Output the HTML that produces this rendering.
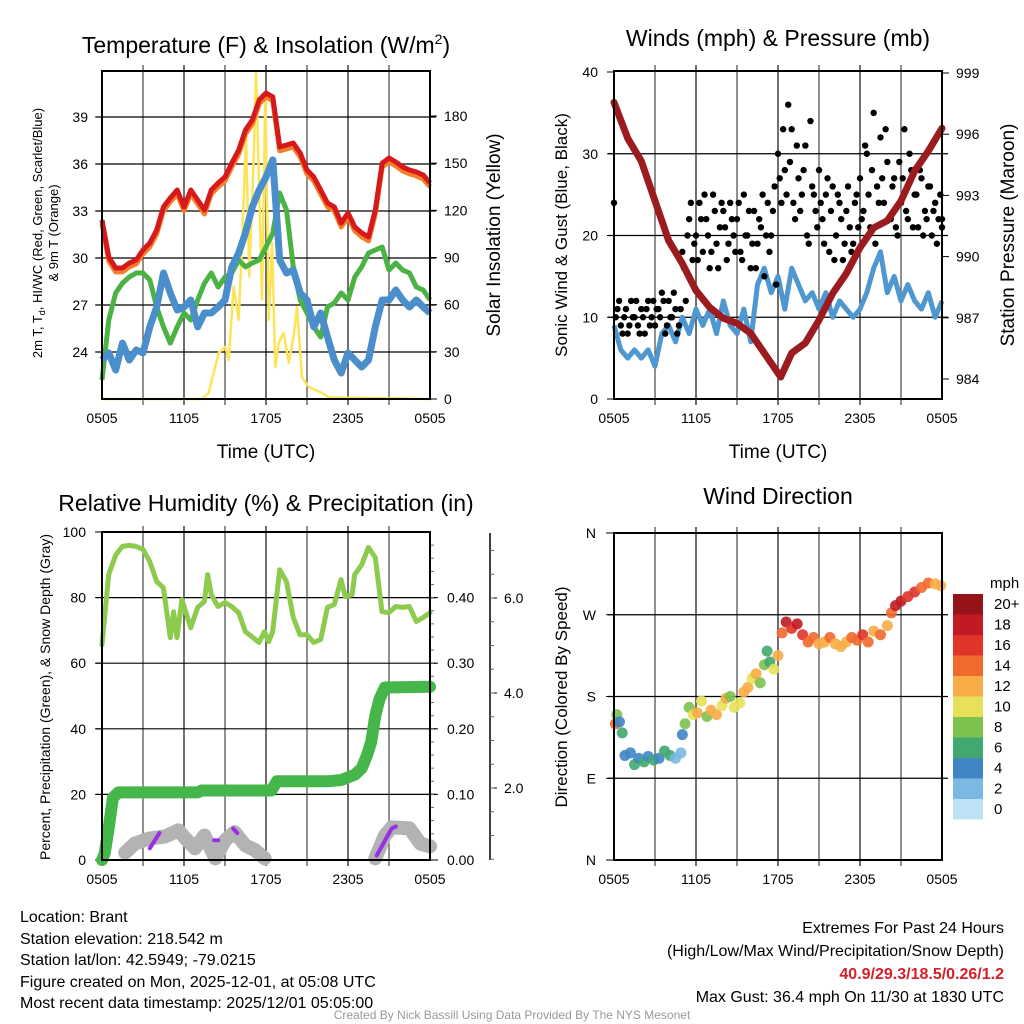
<!DOCTYPE html>
<html><head><meta charset="utf-8"><style>
html,body{margin:0;padding:0;background:#fff;}
svg{display:block;font-family:"Liberation Sans",Arial,sans-serif;}
</style></head><body>
<svg id="fig" width="1024" height="1024" viewBox="0 0 1024 1024" xmlns="http://www.w3.org/2000/svg">
<rect width="1024" height="1024" fill="#fff"/>
<g id="p1"></g>
<g id="p2"></g>
<g id="p3"></g>
<g id="p4"></g>
<g font-size="16" fill="#000">
<text x="20" y="922">Location: Brant</text>
<text x="20" y="944">Station elevation: 218.542 m</text>
<text x="20" y="965">Station lat/lon: 42.5949; -79.0215</text>
<text x="20" y="987">Figure created on Mon, 2025-12-01, at 05:08 UTC</text>
<text x="20" y="1008">Most recent data timestamp: 2025/12/01 05:05:00</text>
<text x="1004" y="933" text-anchor="end">Extremes For Past 24 Hours</text>
<text x="1004" y="956" text-anchor="end">(High/Low/Max Wind/Precipitation/Snow Depth)</text>
<text x="1004" y="979" text-anchor="end" fill="#d42027" font-weight="bold">40.9/29.3/18.5/0.26/1.2</text>
<text x="1004" y="1002" text-anchor="end">Max Gust: 36.4 mph On 11/30 at 1830 UTC</text>
<text x="512" y="1019" text-anchor="middle" font-size="12" fill="#999">Created By Nick Bassill Using Data Provided By The NYS Mesonet</text>
</g>
</svg>
<script>
// ---------- data ----------
const xTickLabels = ["0505","1105","1705","2305","0505"];
const tempRed = [32.43,30.06,29.36,29.36,29.68,29.87,30.51,30.96,31.79,33.26,33.83,34.34,33.26,34.34,33.70,33.06,34.34,34.79,35.17,36.06,36.89,38.17,38.81,40.09,40.53,40.28,37.09,37.21,37.34,36.70,35.62,35.17,34.34,33.51,33.26,32.23,32.87,31.98,31.60,31.34,33.06,36.06,36.38,36.13,35.81,35.62,35.49,35.30,34.79];
const tempGreen = [22.21,26.04,27.77,28.40,28.79,29.04,29.04,28.60,26.87,25.60,24.57,25.60,26.49,26.04,27.32,28.40,29.04,28.15,28.79,29.04,29.87,29.43,29.68,29.87,30.70,31.60,34.15,33.06,29.43,27.32,26.49,25.60,24.96,26.87,27.13,27.77,27.32,28.79,29.43,30.32,30.51,30.70,29.23,29.68,29.23,29.04,28.15,27.96,27.32];
const tempBlue = [23.49,23.94,22.85,24.57,23.49,24.13,23.94,25.60,26.87,29.04,27.77,26.68,26.87,27.32,25.60,26.49,26.49,26.87,27.32,29.43,30.32,31.60,33.26,34.34,35.17,36.26,29.87,29.04,29.23,27.77,27.32,25.60,26.49,24.96,23.49,22.66,23.94,23.49,23.04,23.49,25.60,27.32,27.32,27.96,27.32,26.87,27.32,26.87,26.49];
const leftTicks1 = [24,27,30,33,36,39];
const rightTicks1 = [0,30,60,90,120,150,180];
const solarT = [0,7.32,7.80,8.54,9.02,9.27,9.63,10.0,10.24,10.54,10.78,11.1,11.27,11.46,11.71,11.95,12.2,12.44,12.68,12.93,13.29,13.66,14.02,14.27,14.63,15.12,16.1,16.6,24];
const solarV = [0,0,3.8,29.4,33.2,24.9,71.5,50.4,97,167,77.9,152.6,208,148,63.2,195,50.4,99.6,20.4,35.7,42.1,23,39.6,58.7,14,7.7,3.8,1,0];

const windSpeed = [9,6,5,6,5,6,4,8,9,7,10,8,11,9,11,8,12,9,8,11,7,14,16,13,15,11,16,14,12,13,11,13,10,12,11,10,11,13,16,18,13,15,12,14,12,11,13,10,12];
const gustSpeed = [24,11,9,10,8,12,10,9,11,8,12,10,9,11,13,8,12,10,11,9,18,12,22,17,20,24,18,22,16,25,19,21,23,17,24,20,22,18,25,20,16,23,19,21,15,24,20,26,30,24,28,36,33,22,27,25,31,19,26,23,28,22,25,18,26,20,24,17,23,21,19,25,27,23,30,21,35,26,32,24,29,22,27,20,24,33,22,28,25,21,27,23,26,20,24,22,21];
const gustSpeed2 = [10,12,8,11,9,10,12,8,10,11,9,12,11,10,12,9,10,13,8,11,16,20,24,19,17,22,25,20,18,23,16,24,21,19,22,18,24,17,20,23,19,16,22,25,20,18,23,14,27,33,25,29,24,31,23,28,20,34,25,21,24,19,27,23,17,25,22,19,26,18,24,21,22,31,25,28,19,24,27,33,22,26,21,29,27,23,30,21,25,28,20,22,26,23,19,25,22];
const pressT = [0,1,2,3,4,5,6,7,8,9,10,11,12,12.2,13,14,15,16,17,18,19,20,21,22,23,24];
const pressV = [997.56,995.80,994.68,992.73,990.78,989.66,988.34,987.51,986.98,986.73,986.24,985.27,984.29,984.10,985.27,985.76,986.88,988.20,989.17,990.44,991.41,991.76,992.73,994.20,995.17,996.29];
const windTicks = [0,10,20,30,40];
const pressTicks = [984,987,990,993,996,999];

const rhT = [0,0.49,1,1.49,2,2.49,3,3.49,4,4.49,5,5.24,5.49,5.85,6.49,7,7.49,7.73,8,8.49,9,9.49,10,10.49,11,11.49,11.88,12.2,12.49,13,13.49,14,14.49,15,15.49,16,16.49,17,17.49,17.8,18.3,18.49,19,19.49,20,20.49,21,21.49,22,22.49,23,23.49,24];
const rhV = [65.6,87,93,95.6,95.9,95.6,94.7,91,84.9,83,67.8,75.7,67.8,79.4,70.8,77,78.8,87,80.9,77.3,78.5,77.3,75.4,69.6,68,66.3,69.6,66.6,69.6,88.5,84.9,73.9,68.7,68.7,66.3,67.2,77,77.9,85.5,80.3,80.9,87,90,95.3,92.2,75.7,75.4,77.3,77,77.3,72.7,73.9,75.4];
const precipT = [0,0.2,0.5,0.8,1.2,7,7.3,12.4,12.8,16.5,17.5,18.5,19.0,19.4,19.7,20.0,20.3,20.7,24];
const precipV = [0,0.01,0.05,0.095,0.103,0.103,0.106,0.106,0.12,0.12,0.122,0.13,0.14,0.16,0.18,0.22,0.245,0.263,0.264];
const snowT1 = [1.7,2.4,3.5,4.6,5.6,6.1,6.8,7.5,8.3,9.0,9.7,10.5,11.2,11.9];
const snowV1 = [0.64,0.83,0.94,0.98,1.11,0.94,0.73,1.0,0.52,0.90,1.07,0.79,0.69,0.52];
const snowT2 = [20.0,20.7,21.2,22.5,23.3,24];
const snowV2 = [0.52,1.0,1.17,1.15,0.83,0.77];
const purpleT = [[3.5,4.2],[8.2,8.5],[9.6,9.9],[20.1,21.2,21.5]];
const purpleV = [[0.73,1.05],[0.90,0.90],[1.15,1.05],[0.58,1.15,1.19]];
const rhTicks = [0,20,40,60,80,100];
const precipTicks = [0,0.1,0.2,0.3,0.4];
const snowTicks = [2,4,6];

const dirT = [0.1,0.2,0.4,0.6,0.8,1.2,1.5,1.8,2.2,2.5,2.9,3.3,3.7,4.1,4.5,4.9,5.0,5.2,5.5,5.8,6.1,6.4,6.8,7.1,7.5,7.9,8.2,8.5,8.8,9.2,9.5,9.8,10.1,10.4,10.7,11.0,11.2,11.4,11.7,12.0,12.3,12.6,13.0,13.4,13.8,14.2,14.6,15.0,15.4,15.8,16.2,16.6,17.0,17.4,17.8,18.2,18.6,19.0,19.5,20.0,20.3,20.6,21.0,21.5,22.0,22.5,23.0,23.5,23.9];
const dirV = [150,160,152,140,115,118,105,112,108,114,110,112,120,115,112,118,138,150,168,160,162,175,158,165,160,170,178,180,168,173,185,190,200,205,195,215,230,218,210,225,250,262,255,260,248,240,245,238,240,245,238,235,240,245,242,248,240,252,248,258,272,280,285,290,295,300,305,304,302];
const dirSpd = [14,8,4,6,5,4,6,4,6,5,6,5,6,6,3,2,4,8,9,10,12,11,8,12,13,10,12,9,11,10,13,12,10,13,9,8,7,6,10,12,14,18,16,18,17,14,15,12,13,14,13,12,12,14,15,16,15,13,14,12,14,18,19,16,17,15,14,12,12];
const cbLabels = ["20+","18","16","14","12","10","8","6","4","2","0"];
const cbColors = ["#961219","#c01b22","#e0342b","#ef6a2c","#f7ac45","#e7e15a","#7cc24d","#41a86f","#3f86c4","#7bb8e2","#bfe3f6"];
const dirLabels = ["N","E","S","W","N"];

// ---------- helpers ----------
const NS="http://www.w3.org/2000/svg";
function mk(parent,tag,attrs){const e=document.createElementNS(NS,tag);for(const k in attrs)e.setAttribute(k,attrs[k]);parent.appendChild(e);return e;}
function txt(parent,x,y,s,attrs){const e=mk(parent,"text",Object.assign({x:x,y:y},attrs||{}));e.textContent=s;return e;}
function lin(d0,d1,r0,r1){return v=>r0+(v-d0)*(r1-r0)/(d1-d0);}
function pts(T,V,sx,sy){return T.map((t,i)=>sx(t).toFixed(1)+","+sy(V[i]).toFixed(1)).join(" ");}
const hrs = a=>a.map((_,i)=>i*0.5);

function frame(g,X0,X1,Y0,Y1,hgrid){
  const sx=lin(0,24,X0,X1);
  for(let h=3;h<24;h+=3){
    const l=mk(g,"line",{x1:sx(h),x2:sx(h),y1:Y0-6,y2:Y1+6,stroke:(h%6===0)?"#222":"#555","stroke-width":1.3});
    
    
  }
  hgrid.forEach(y=>{
    const l=mk(g,"line",{x1:X0-6,x2:X1+6,y1:y,y2:y,stroke:"#000","stroke-width":1.2});
    
    
  });
  xTickLabels.forEach((s,i)=>{
    const t=txt(g,sx(i*6),Y1+24,s,{"font-size":14,"text-anchor":"middle"});
    
    
  });
}
function border(g,X0,X1,Y0,Y1){
  const r=mk(g,"rect",{x:X0,y:Y0,width:X1-X0,height:Y1-Y0,fill:"none",stroke:"#000","stroke-width":2});
  
  
}

// ---------- Panel 1 ----------
(function(){
  const g=document.getElementById("p1");
  const X0=102,X1=430,Y0=71,Y1=399;
  const sx=lin(0,24,X0,X1), sy=lin(24,39,352,117), sr=lin(0,180,399,116);
  frame(g,X0,X1,Y0,Y1,leftTicks1.map(sy));
  leftTicks1.forEach(v=>{const t=txt(g,X0-14,sy(v)+5,String(v),{"font-size":14,"text-anchor":"end"});
    
    mk(g,"line",{x1:X0-7,x2:X0,y1:sy(v),y2:sy(v),stroke:"#000"});});
  rightTicks1.forEach(v=>{const t=txt(g,X1+14,sr(v)+5,String(v),{"font-size":14});
    
    mk(g,"line",{x1:X1,x2:X1+7,y1:sr(v),y2:sr(v),stroke:"#000"});});
  const sol=mk(g,"polyline",{points:pts(solarT,solarV,sx,sr),fill:"none",stroke:"#fde457","stroke-width":2.5,"stroke-linejoin":"round"});
  
  const gr=mk(g,"polyline",{points:pts(hrs(tempGreen),tempGreen,sx,sy),fill:"none",stroke:"#4bb244","stroke-width":5,"stroke-linejoin":"round"});
  
  const bl=mk(g,"polyline",{points:pts(hrs(tempBlue),tempBlue,sx,sy),fill:"none",stroke:"#4a8fcb","stroke-width":7,"stroke-linejoin":"round"});
  
  const orT=hrs(tempRed), orV=tempRed.map(v=>v-0.25);
  const or=mk(g,"polyline",{points:pts(orT,orV,sx,sy),fill:"none",stroke:"#f47f2a","stroke-width":5,"stroke-linejoin":"round"});
  
  const rd=mk(g,"polyline",{points:pts(hrs(tempRed),tempRed,sx,sy),fill:"none",stroke:"#d7191c","stroke-width":5,"stroke-linejoin":"round"});
  
  border(g,X0,X1,Y0,Y1);
  let t=txt(g,266,53,"Temperature (F) & Insolation (W/m",{"font-size":23,"text-anchor":"middle"});
  const sup=mk(t,"tspan",{dy:-9,"font-size":14});sup.textContent="2";
  const cl=mk(t,"tspan",{dy:9});cl.textContent=")";
  
  t=txt(g,266,458,"Time (UTC)",{"font-size":19,"text-anchor":"middle"});
  
  const lt=mk(g,"text",{transform:"translate(42,233) rotate(-90)","font-size":13,"text-anchor":"middle"});
  const a1=mk(lt,"tspan",{});a1.textContent="2m T, T";
  const a2=mk(lt,"tspan",{dy:3,"font-size":9});a2.textContent="d";
  const a3=mk(lt,"tspan",{dy:-3});a3.textContent=", HI/WC (Red, Green, Scarlet/Blue)";
  
  const lt2=mk(g,"text",{transform:"translate(58,233) rotate(-90)","font-size":13,"text-anchor":"middle"});
  lt2.textContent="& 9m T (Orange)";
  
  const rt=mk(g,"text",{transform:"translate(500,235) rotate(-90)","font-size":19,"text-anchor":"middle"});
  rt.textContent="Solar Insolation (Yellow)";
  
})();

// ---------- Panel 2 ----------
(function(){
  const g=document.getElementById("p2");
  const X0=614,X1=942,Y0=71,Y1=399;
  const sx=lin(0,24,X0,X1), sy=lin(0,40,399,72), sp=lin(984,999,379,73);
  frame(g,X0,X1,Y0,Y1,windTicks.slice(1,4).map(sy));
  windTicks.forEach(v=>{const t=txt(g,X0-16,sy(v)+5,String(v),{"font-size":14,"text-anchor":"end"});
    
    mk(g,"line",{x1:X0-7,x2:X0,y1:sy(v),y2:sy(v),stroke:"#000"});});
  pressTicks.forEach(v=>{const t=txt(g,X1+14,sp(v)+5,String(v),{"font-size":14});
    
    mk(g,"line",{x1:X1,x2:X1+7,y1:sp(v),y2:sp(v),stroke:"#000"});});
  const wl=mk(g,"polyline",{points:pts(hrs(windSpeed),windSpeed,sx,sy),fill:"none",stroke:"#4e97d1","stroke-width":5,"stroke-linejoin":"round"});
  
  gustSpeed.forEach((v,i)=>{
    const c=mk(g,"circle",{cx:sx(i*0.25),cy:sy(v),r:3.2,fill:"#000"});
    
    
  });
  gustSpeed2.forEach((v,i)=>{
    const c=mk(g,"circle",{cx:sx(Math.min(24,i*0.25+0.125)),cy:sy(v),r:3.2,fill:"#000"});
    
    
  });
  const pl=mk(g,"polyline",{points:pts(pressT,pressV,sx,sp),fill:"none",stroke:"#9b1b1e","stroke-width":7,"stroke-linejoin":"round","stroke-linecap":"round"});
  
  border(g,X0,X1,Y0,Y1);
  let t=txt(g,778,46,"Winds (mph) & Pressure (mb)",{"font-size":23,"text-anchor":"middle"});
  
  t=txt(g,778,458,"Time (UTC)",{"font-size":19,"text-anchor":"middle"});
  
  const lt=mk(g,"text",{transform:"translate(567,235) rotate(-90)","font-size":17,"text-anchor":"middle"});
  lt.textContent="Sonic Wind & Gust (Blue, Black)";
  
  const rt=mk(g,"text",{transform:"translate(1014,235) rotate(-90)","font-size":19,"text-anchor":"middle"});
  rt.textContent="Station Pressure (Maroon)";
  
})();

// ---------- Panel 3 ----------
(function(){
  const g=document.getElementById("p3");
  const X0=102,X1=430,Y0=532,Y1=860;
  const sx=lin(0,24,X0,X1), sy=lin(0,100,860,532), spr=lin(0,0.5,860,532), ssn=lin(2,4,788,693);
  frame(g,X0,X1,Y0,Y1,rhTicks.slice(1,5).map(sy));
  rhTicks.forEach(v=>{const t=txt(g,X0-16,sy(v)+5,String(v),{"font-size":14,"text-anchor":"end"});
    
    mk(g,"line",{x1:X0-7,x2:X0,y1:sy(v),y2:sy(v),stroke:"#000"});});
  precipTicks.forEach(v=>{const t=txt(g,X1+17,spr(v)+5,v.toFixed(2),{"font-size":14});
    
    mk(g,"line",{x1:X1,x2:X1+8,y1:spr(v),y2:spr(v),stroke:"#000"});});
  for(let v=0.02;v<0.5;v+=0.02){mk(g,"line",{x1:X1,x2:X1+4,y1:spr(v),y2:spr(v),stroke:"#666"});}
  const ax=mk(g,"line",{x1:490,x2:490,y1:533,y2:860,stroke:"#000","stroke-width":1.5});
  
  snowTicks.forEach(v=>{const t=txt(g,504,ssn(v)+5,v.toFixed(1),{"font-size":14});
    
    mk(g,"line",{x1:490,x2:497,y1:ssn(v),y2:ssn(v),stroke:"#000"});});
  for(let v=0.5;v<7.2;v+=0.5){if(ssn(v)>533)mk(g,"line",{x1:490,x2:494,y1:ssn(v),y2:ssn(v),stroke:"#666"});}
  [[snowT1,snowV1],[snowT2,snowV2]].forEach(([T,V])=>{
    const s=mk(g,"polyline",{points:pts(T,V,sx,ssn),fill:"none",stroke:"#b3b3b3","stroke-width":14,"stroke-linejoin":"round","stroke-linecap":"round"});
    
    
  });
  purpleT.forEach((T,i)=>{
    const s=mk(g,"polyline",{points:pts(T,purpleV[i],sx,ssn),fill:"none",stroke:"#9a2ee6","stroke-width":4,"stroke-linejoin":"round","stroke-linecap":"round"});
    
    
  });
  const pr=mk(g,"polyline",{points:pts(precipT,precipV,sx,spr),fill:"none",stroke:"#45b649","stroke-width":12,"stroke-linejoin":"round","stroke-linecap":"round"});
  
  const rh=mk(g,"polyline",{points:pts(rhT,rhV,sx,sy),fill:"none",stroke:"#8dcb4f","stroke-width":5,"stroke-linejoin":"round","stroke-linecap":"round"});
  
  border(g,X0,X1,Y0,Y1);
  let t=txt(g,266,511,"Relative Humidity (%) & Precipitation (in)",{"font-size":23,"text-anchor":"middle"});
  
  const lt=mk(g,"text",{transform:"translate(50,697) rotate(-90)","font-size":14,"text-anchor":"middle"});
  lt.textContent="Percent, Precipitation (Green), & Snow Depth (Gray)";
  
})();

// ---------- Panel 4 ----------
(function(){
  const g=document.getElementById("p4");
  const X0=614,X1=942,Y0=533,Y1=860;
  const sx=lin(0,24,X0,X1), sd=lin(0,360,860,533);
  frame(g,X0,X1,Y0,Y1,[90,180,270].map(sd));
  dirLabels.forEach((s,i)=>{const t=txt(g,X0-18,sd(i*90)+5,s,{"font-size":14,"text-anchor":"end"});
    
    mk(g,"line",{x1:X0-8,x2:X0,y1:sd(i*90),y2:sd(i*90),stroke:"#000"});});
  function col(s){let k=Math.min(10,Math.floor(s/2));return cbColors[10-k];}
  dirT.forEach((tt,i)=>{
    const c=mk(g,"circle",{cx:sx(tt),cy:sd(dirV[i]),r:5.5,fill:col(dirSpd[i]),"fill-opacity":0.9});
    
    
  });
  border(g,X0,X1,Y0,Y1);
  let t=txt(g,778,504,"Wind Direction",{"font-size":23,"text-anchor":"middle"});
  
  const lt=mk(g,"text",{transform:"translate(567,697) rotate(-90)","font-size":17,"text-anchor":"middle"});
  lt.textContent="Direction (Colored By Speed)";
  
  const cb=mk(g,"g",{});
  
  t=txt(cb,990,588,"mph",{"font-size":15});
  
  cbLabels.forEach((s,i)=>{
    const r=mk(cb,"rect",{x:953,y:594+i*20.5,width:30,height:20.5,fill:cbColors[i]});
    
    
    const l=txt(cb,994,609+i*20.5,s,{"font-size":15});
    
    
  });
})();
</script>
</body></html>
